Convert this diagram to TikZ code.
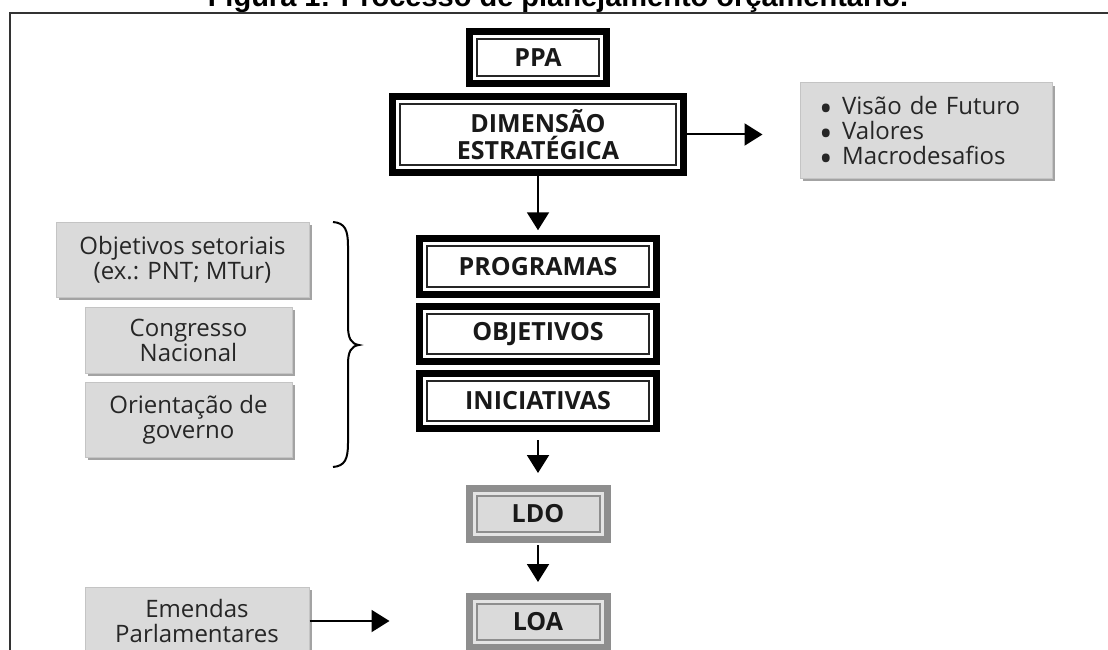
\documentclass[tikz,border=0pt]{standalone}
\usepackage{fontspec}
\setmainfont{Open Sans}
\newfontfamily\titlefont{Liberation Sans}
\usepackage{tikz}
\usetikzlibrary{arrows.meta,shapes}
\usetikzlibrary{positioning,shadows}
\definecolor{boxgray}{HTML}{DADADA}
\definecolor{edgegray}{HTML}{C4C4C4}
\definecolor{shadegray}{HTML}{A3A3A3}
\definecolor{lawgray}{HTML}{8E8E8E}
\definecolor{stripgray}{HTML}{E4E4E4}
\newcommand{\boxfont}{\fontsize{25}{27}\selectfont\bfseries}
\newcommand{\notefont}{\fontsize{24}{25}\selectfont}
\newcommand{\dotitem}{\smash{\raisebox{-0.28em}{\scalebox{1.5}{\textbullet}}}\hspace{0.4em}}
\tikzstyle{stage} = [draw=black, line width=7pt, fill=white, inner sep=0pt,
    align=center, font=\boxfont, text=black!90,
    path picture={\draw[line width=2pt, black!85]
      ([shift={(7.5pt,-7.5pt)}]path picture bounding box.north west) rectangle
      ([shift={(-7.5pt,7.5pt)}]path picture bounding box.south east);}]
\tikzstyle{law} = [draw=lawgray, line width=7pt, fill=boxgray, inner sep=0pt,
    align=center, font=\boxfont, text=black!90,
    minimum width=138pt, minimum height=51pt,
    path picture={\draw[line width=3pt, stripgray]
      ([shift={(5pt,-5pt)}]path picture bounding box.north west) rectangle
      ([shift={(-5pt,5pt)}]path picture bounding box.south east);
      \draw[line width=2pt, lawgray]
      ([shift={(7.5pt,-7.5pt)}]path picture bounding box.north west) rectangle
      ([shift={(-7.5pt,7.5pt)}]path picture bounding box.south east);}]
\tikzstyle{note} = [draw=edgegray, line width=1pt, fill=boxgray, inner sep=0pt,
    align=center, font=\notefont, text=black!85,
    drop shadow={shadow xshift=3pt, shadow yshift=-3pt, fill=shadegray, opacity=1}]
\tikzstyle{line} = [draw, line width=2pt, -{Triangle[length=18pt,width=22pt]}]

\begin{document}
\begin{tikzpicture}[x=1pt, y=-1pt, node distance=67pt, auto]
  \useasboundingbox (0,0) rectangle (1108,650);
  \clip (0,0) rectangle (1108,650);
  % Title and frame
  \node [anchor=base, font={\titlefont\bfseries\fontsize{29}{30}\selectfont}] (title) at (558,7)
  {Figura 1: Processo de planejamento orçamentário.};
  \draw [line width=2pt, black!80] (9.5,650) -- (9.5,13) -- (1108,13);
  % Place nodes
  \node [stage, minimum width=137pt, minimum height=52pt] (ppa) at (538,57.5) {PPA};
  \node [stage, minimum width=291pt, minimum height=76pt, below of=ppa, node distance=77pt] (dim)
  {DIMENSÃO\\ESTRATÉGICA};
  \node [stage, minimum width=237pt, minimum height=55.5pt, below of=dim, node distance=132pt] (prog) {PROGRAMAS};
  \node [stage, minimum width=237pt, minimum height=55.5pt, below of=prog, node distance=67.5pt] (obj) {OBJETIVOS};
  \node [stage, minimum width=237pt, minimum height=55.5pt, below of=obj] (inic) {INICIATIVAS};
  \node [law, below of=inic, node distance=113pt] (ldo) {LDO};
  \node [law, below of=ldo, node distance=108pt] (loa) {LOA};
  \node [note, minimum width=252pt, minimum height=95pt, text width=214pt, align=left] (visao) at (926,130.5)
  {\dotitem Visão de Futuro\\\dotitem Valores\\\dotitem Macrodesafios};
  \node [note, minimum width=253pt, minimum height=75pt] (setor) at (182.5,259.5) {Objetivos setoriais\\(ex.: PNT; MTur)};
  \node [note, minimum width=207pt, minimum height=66pt] (congresso) at (188.5,340) {Congresso\\Nacional};
  \node [note, minimum width=207pt, minimum height=75pt] (governo) at (188.5,419.5) {Orientação de\\governo};
  \node [note, minimum width=224pt, minimum height=68pt] (emendas) at (197,621) {Emendas\\Parlamentares};
  % Brace
  \draw [line width=2pt] (333,222) .. controls (345,223) and (348,230) .. (348,246) -- (348,326)
    .. controls (348,338) and (351,344) .. (359,345) .. controls (351,346) and (348,352) .. (348,364)
    -- (348,443) .. controls (348,459) and (345,466) .. (333,467);
  % Draw edges
  \path [line, shorten >=5pt] (dim) -- (prog);
  \path [line, shorten <=8pt, shorten >=12pt] (inic) -- (ldo);
  \path [line, shorten <=2pt, shorten >=11pt] (ldo) -- (loa);
  \path [line, shorten >=37pt] (dim) -- (dim -| visao.west);
  \path [line, shorten >=76pt] (emendas) -- (emendas -| loa.west);
\end{tikzpicture}
\end{document}
